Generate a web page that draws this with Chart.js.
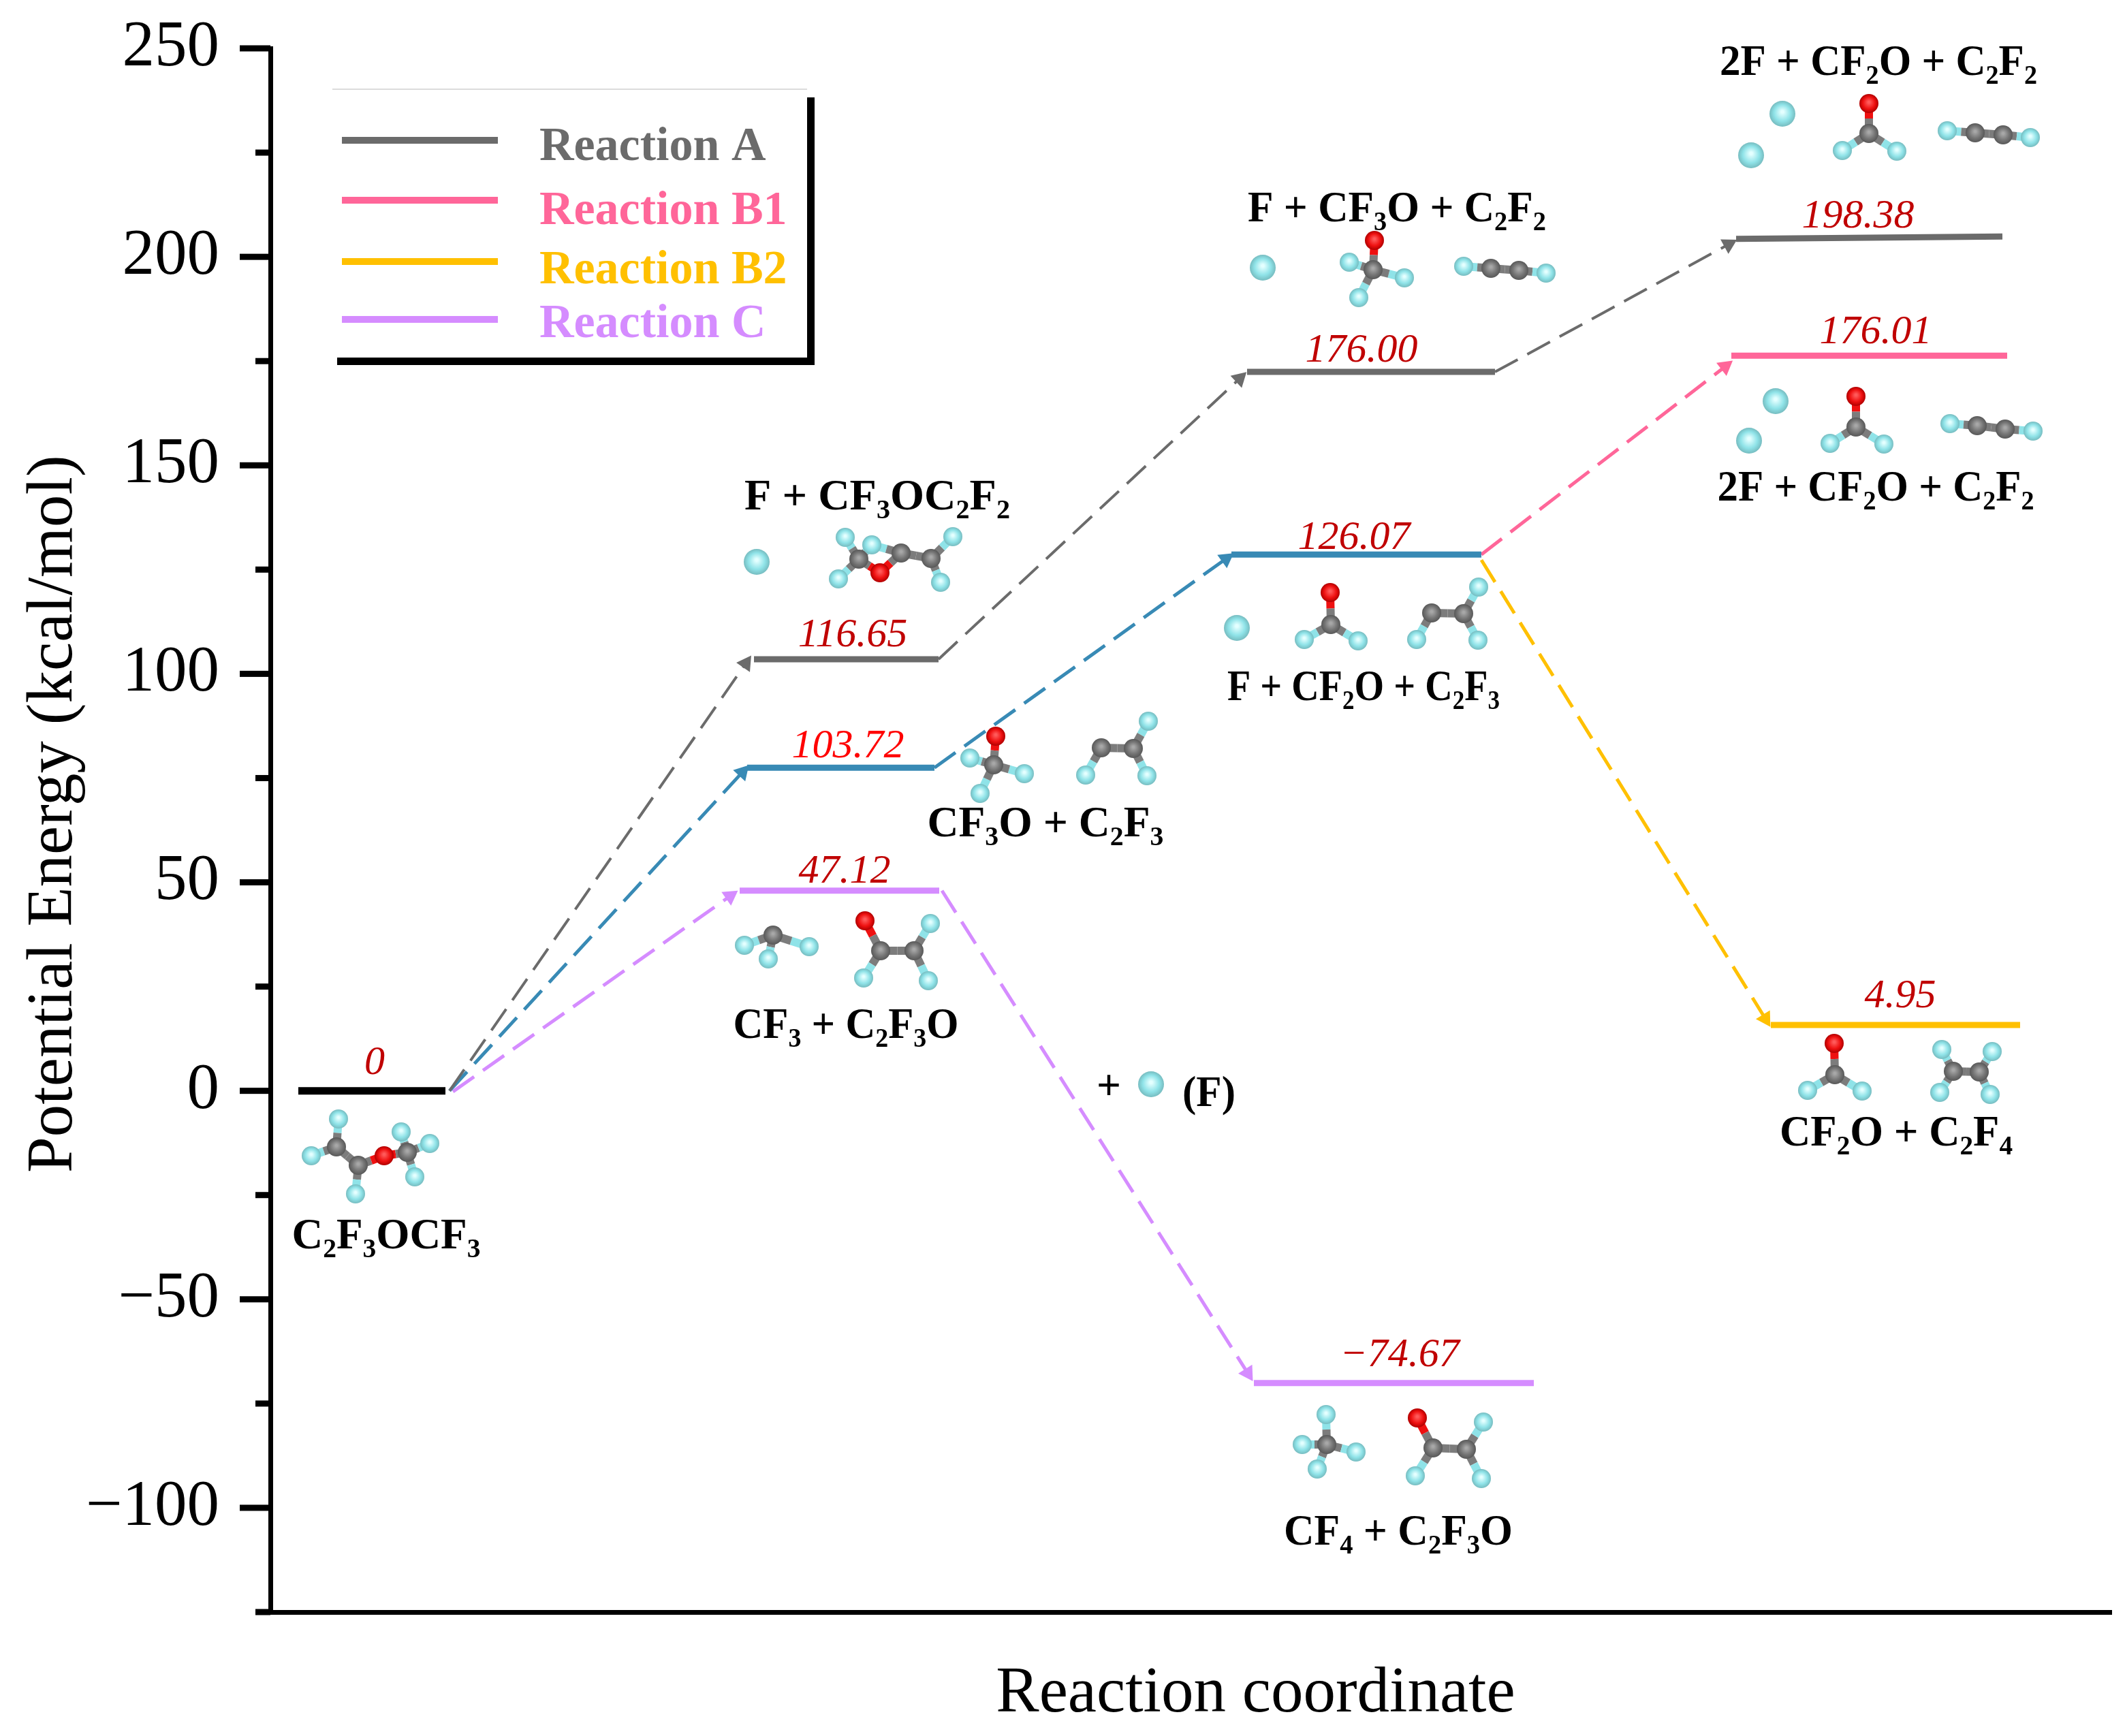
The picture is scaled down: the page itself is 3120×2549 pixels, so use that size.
<!DOCTYPE html>
<html>
<head>
<meta charset="utf-8">
<title>Potential energy profile</title>
<script src="https://cdn.jsdelivr.net/npm/chart.js@4"></script>
<style>
    body { margin: 0; background: #fff; }
    canvas { display: block; background: #fff; }
</style>
</head>
<body>
<canvas id="profileChart" width="3120" height="2549"></canvas>
<script>
/* data */
const seriesNames = ['Reaction A', 'Reaction B1', 'Reaction B2', 'Reaction C'];
const yTicks = [-125, -100, -75, -50, -25, 0, 25, 50, 75, 100, 125, 150, 175, 200, 225, 250];
const yLabelled = [-100, -50, 0, 50, 100, 150, 200, 250];

// energy levels: x in reaction coordinate units, energy as plotted on the axis
const levelKey = ['start', 'A', 'A', 'A', 'AB', 'AB', 'B1', 'B2', 'C', 'C'];
const levelX1 = [41, 710, 1434, 2152, 700, 1411, 2145, 2203, 689, 1444];
const levelX2 = [257, 981, 1798, 2543, 975, 1778, 2550, 2569, 982, 1855];
const levelE1 = [0, 103.5, 172.4, 204.3, 77.5, 128.6, 176.3, 15.8, 48, -70.1];
const levelE2 = [0, 103.5, 172.4, 204.9, 77.5, 128.6, 176.3, 15.8, 48, -70.1];

// dashed arrows between levels
const pathKey = ['A', 'A', 'A', 'AB', 'AB', 'B1', 'B2', 'C', 'C'];
const pathX1 = [263, 981, 1798, 263, 975, 1778, 1778, 268, 986];
const pathE1 = [0, 103.5, 172.4, 0, 77.5, 128.6, 127.3, -0.2, 48];
const pathX2 = [698, 1423, 2141, 693, 1403, 2136, 2195, 675, 1435];
const pathE2 = [102.5, 170.8, 203, 76.4, 127.6, 173.7, 17.3, 46.7, -67.7];

// printed energies
const energyLabels = ['0', '116.65', '176.00', '198.38', '176.01', '126.07', '103.72', '47.12', '4.95', '−74.67'];
const energyX = [153, 855, 1602, 2331, 2357, 1591, 848, 843, 2393, 1658];
const energyE = [4, 106.6, 174.9, 207.1, 179.3, 130, 80, 50, 20, -66];

// species names, _ marks a subscript digit
const speciesLabels = ['C_2F_3OCF_3', 'F + CF_3OC_2F_2', 'CF_3O + C_2F_3', 'CF_3 + C_2F_3O', 'F + CF_3O + C_2F_2',
    'F + CF_2O + C_2F_3', 'CF_4 + C_2F_3O', '2F + CF_2O + C_2F_2', '2F + CF_2O + C_2F_2', 'CF_2O + C_2F_4', '(F)', '+'];

const colors = { start: '#000000', A: '#6b6b6b', AB: '#388ab5', B1: '#ff6699', B2: '#ffc000', C: '#d58cff' };
const legendKeys = ['A', 'B1', 'B2', 'C'];
const serif = '"Liberation Serif"';

// text placement, figure pixels [centre x, baseline y, width]
const speciesPos = [[567, 1833, 277], [1288, 748, 390], [1535, 1228, 347], [1242, 1524, 331], [2051, 325, 438],
    [2002, 1028, 400], [2053, 2268, 336], [2758, 110, 466], [2754, 735, 465], [2784, 1682, 342], [1775, 1624, 78], [1628, 1614, 36]];

// molecule sketches, figure pixels
const molecules = [
    [[497, 1643, 'F'], [457, 1697, 'F'], [494, 1684, 'C'], [526, 1711, 'C'], [522, 1753, 'F'], [564, 1697, 'O'], [598, 1692, 'C'], [589, 1662, 'F'], [631, 1679, 'F'], [609, 1728, 'F']],
    [[1241, 789, 'F'], [1280, 800, 'F'], [1261, 821, 'C'], [1231, 850, 'F'], [1292, 841, 'O'], [1323, 812, 'C'], [1367, 820, 'C'], [1399, 788, 'F'], [1381, 855, 'F']],
    [[1462, 1081, 'O'], [1424, 1113, 'F'], [1504, 1136, 'F'], [1439, 1165, 'F'], [1459, 1123, 'C']],
    [[1686, 1059, 'F'], [1664, 1099, 'C'], [1617, 1098, 'C'], [1594, 1138, 'F'], [1684, 1139, 'F']],
    [[1093, 1388, 'F'], [1188, 1390, 'F'], [1135, 1373, 'C'], [1128, 1408, 'F']],
    [[1270, 1352, 'O'], [1293, 1396, 'C'], [1342, 1396, 'C'], [1268, 1436, 'F'], [1366, 1356, 'F'], [1363, 1440, 'F']],
    [[1953, 870, 'O'], [1954, 917, 'C'], [1915, 939, 'F'], [1994, 941, 'F']],
    [[2102, 900, 'C'], [2149, 901, 'C'], [2080, 939, 'F'], [2171, 862, 'F'], [2170, 940, 'F']],
    [[2018, 353, 'O'], [1981, 385, 'F'], [2062, 408, 'F'], [1995, 437, 'F'], [2016, 396, 'C']],
    [[2149, 391, 'F'], [2189, 394, 'C'], [2230, 397, 'C'], [2270, 401, 'F']],
    [[1947, 2077, 'F'], [1948, 2121, 'C'], [1912, 2121, 'F'], [1991, 2132, 'F'], [1934, 2157, 'F']],
    [[2081, 2082, 'O'], [2104, 2126, 'C'], [2153, 2128, 'C'], [2178, 2088, 'F'], [2078, 2167, 'F'], [2175, 2171, 'F']],
    [[2744, 152, 'O'], [2744, 196, 'C'], [2705, 221, 'F'], [2785, 222, 'F']],
    [[2859, 192, 'F'], [2900, 195, 'C'], [2941, 198, 'C'], [2981, 202, 'F']],
    [[2725, 582, 'O'], [2725, 627, 'C'], [2687, 651, 'F'], [2766, 652, 'F']],
    [[2863, 622, 'F'], [2903, 625, 'C'], [2944, 630, 'C'], [2985, 633, 'F']],
    [[2693, 1532, 'O'], [2694, 1578, 'C'], [2654, 1601, 'F'], [2734, 1602, 'F']],
    [[2868, 1573, 'C'], [2906, 1574, 'C'], [2851, 1541, 'F'], [2925, 1544, 'F'], [2848, 1604, 'F'], [2922, 1607, 'F']]
];
const freeAtoms = [[1111, 825], [1854, 393], [1816, 922], [2617, 167], [2571, 228], [2607, 589], [2568, 647], [1690, 1592]];

function ball(ctx, x, y, r, kind) {
    const shades = {
        F: ['#e4ffff', '#8fe3e8', '#76bcc0'],
        C: ['#a8a8a8', '#747474', '#585858'],
        O: ['#ff5a5a', '#ee1010', '#b00000']
    }[kind];
    const g = ctx.createRadialGradient(x, y - r * 0.15, r * 0.1, x, y, r);
    g.addColorStop(0, shades[0]);
    g.addColorStop(0.6, shades[1]);
    g.addColorStop(1, shades[2]);
    ctx.fillStyle = g;
    ctx.beginPath();
    ctx.arc(x, y, r, 0, Math.PI * 2);
    ctx.fill();
}

function drawMolecule(ctx, atoms) {
    const stick = { F: '#8fe3e8', C: '#7c7c7c', O: '#ee1010' };
    ctx.lineWidth = 12;
    atoms.forEach((a, i) => atoms.slice(i + 1).forEach(b => {
        if (a[2] !== 'C' && b[2] !== 'C') return;
        if (Math.hypot(a[0] - b[0], a[1] - b[1]) > 58) return;
        const mx = (a[0] + b[0]) / 2, my = (a[1] + b[1]) / 2;
        ctx.strokeStyle = stick[a[2]];
        ctx.beginPath(); ctx.moveTo(a[0], a[1]); ctx.lineTo(mx, my); ctx.stroke();
        ctx.strokeStyle = stick[b[2]];
        ctx.beginPath(); ctx.moveTo(mx, my); ctx.lineTo(b[0], b[1]); ctx.stroke();
    }));
    atoms.forEach(a => ball(ctx, a[0], a[1], 14, a[2]));
}

function drawFormula(ctx, text, cx, base, width) {
    const size = 64;
    const runs = text.split(/_(\d)/);
    const big = 'bold ' + size + 'px ' + serif, small = 'bold ' + Math.round(size * 0.62) + 'px ' + serif;
    let total = 0;
    runs.forEach((r, i) => { ctx.font = i % 2 ? small : big; total += ctx.measureText(r).width; });
    const k = width / total;
    ctx.save();
    ctx.translate(cx - width / 2, base);
    ctx.scale(k, 1);
    ctx.textAlign = 'left';
    ctx.textBaseline = 'alphabetic';
    ctx.fillStyle = '#000';
    let x = 0;
    runs.forEach((r, i) => {
        ctx.font = i % 2 ? small : big;
        ctx.fillText(r, x, i % 2 ? size * 0.2 : 0);
        x += ctx.measureText(r).width;
    });
    ctx.restore();
}

function drawLegend(ctx) {
    ctx.fillStyle = '#000';
    ctx.fillRect(495, 143, 701, 393);
    ctx.fillStyle = '#fff';
    ctx.fillRect(488, 131, 697, 394);
    ctx.fillStyle = '#dcdcdc';
    ctx.fillRect(488, 130, 697, 2);
    const lineY = [206, 294, 384, 469], textY = [217, 311, 398, 477];
    ctx.textAlign = 'left';
    ctx.textBaseline = 'middle';
    ctx.font = 'bold 70px ' + serif;
    seriesNames.forEach((name, i) => {
        ctx.fillStyle = colors[legendKeys[i]];
        ctx.fillRect(502, lineY[i] - 5, 229, 10);
        ctx.fillText(name, 792, textY[i]);
    });
}

// ticks have two lengths, so they are drawn here from the scale's own tick list
const axisTicks = {
    id: 'axisTicks',
    afterDraw(chart) {
        const { ctx, scales: { y }, chartArea } = chart;
        ctx.save();
        ctx.fillStyle = '#000';
        y.ticks.forEach(t => {
            const len = yLabelled.includes(t.value) ? 45 : 22;
            const py = y.getPixelForValue(t.value);
            ctx.fillRect(chartArea.left - len, py - 4.5, len, 9);
        });
        ctx.restore();
    }
};

const annotations = {
    id: 'annotations',
    afterDatasetsDraw(chart) {
        const { ctx, scales: { x, y } } = chart;
        ctx.save();
        molecules.forEach(m => drawMolecule(ctx, m));
        freeAtoms.forEach(a => ball(ctx, a[0], a[1], 19, 'F'));

        ctx.textAlign = 'center';
        ctx.textBaseline = 'alphabetic';
        ctx.font = 'italic 60px ' + serif;
        energyLabels.forEach((t, i) => {
            ctx.fillStyle = t === '103.72' ? '#ff0000' : '#c00000';
            ctx.fillText(t, x.getPixelForValue(energyX[i]), y.getPixelForValue(energyE[i]));
        });
        speciesLabels.forEach((t, i) => drawFormula(ctx, t, speciesPos[i][0], speciesPos[i][1], speciesPos[i][2]));
        drawLegend(ctx);
        ctx.restore();
    }
};

function arrowAngle(ctx) {
    const { x, y } = ctx.chart.scales;
    const pts = ctx.dataset.data;
    const dx = x.getPixelForValue(pts[1].x) - x.getPixelForValue(pts[0].x);
    const dy = y.getPixelForValue(pts[1].y) - y.getPixelForValue(pts[0].y);
    return Math.atan2(dx, -dy) * 180 / Math.PI;
}

const levelSets = levelKey.map((k, i) => ({
    label: k + ' level ' + i,
    data: [{ x: levelX1[i], y: levelE1[i] }, { x: levelX2[i], y: levelE2[i] }],
    showLine: true,
    borderColor: colors[k],
    borderWidth: k === 'start' ? 11 : 9,
    borderCapStyle: 'butt',
    pointRadius: 0
}));

const pathSets = pathKey.map((k, i) => ({
    label: k + ' path ' + i,
    data: [{ x: pathX1[i], y: pathE1[i] }, { x: pathX2[i], y: pathE2[i] }],
    showLine: true,
    borderColor: colors[k],
    borderWidth: k === 'A' ? 4 : 5,
    borderDash: [38, 16],
    backgroundColor: colors[k],
    pointBackgroundColor: colors[k],
    pointBorderWidth: 0,
    pointStyle: 'triangle',
    pointRadius: c => c.dataIndex === 1 ? 14 : 0,
    pointRotation: arrowAngle
}));

new Chart(document.getElementById('profileChart'), {
    type: 'scatter',
    data: { datasets: levelSets.concat(pathSets) },
    plugins: [annotations, axisTicks],
    options: {
        responsive: false,
        animation: false,
        layout: { padding: { top: 71, right: 20, left: 0, bottom: 0 } },
        font: { family: serif },
        plugins: { legend: { display: false }, tooltip: { enabled: false } },
        scales: {
            x: {
                type: 'linear',
                min: 0,
                max: 2703,
                afterFit: s => { s.height = 182; },
                border: { color: '#000', width: 7 },
                grid: { display: false },
                ticks: { display: false },
                title: {
                    display: true,
                    text: ' '.repeat(8) + 'Reaction coordinate',
                    color: '#000',
                    font: { family: serif, size: 95 },
                    padding: { top: 0, bottom: 4 }
                }
            },
            y: {
                type: 'linear',
                min: -125,
                max: 250,
                afterFit: s => { s.width = 397; s.paddingTop = 0; s.paddingBottom = 0; },
                afterBuildTicks: s => { s.ticks = yTicks.map(v => ({ value: v })); },
                border: { color: '#000', width: 7 },
                grid: { drawOnChartArea: false, drawTicks: false },
                ticks: {
                    autoSkip: false,
                    padding: 75,
                    color: '#000',
                    font: { family: serif, size: 95 },
                    callback: v => yLabelled.includes(v) ? String(v).replace('-', '−') : ''
                },
                title: {
                    display: true,
                    text: '  Potential Energy (kcal/mol)',
                    color: '#000',
                    font: { family: serif, size: 95 },
                    padding: { top: 23, bottom: 0 }
                }
            }
        }
    }
});
</script>
</body>
</html>
